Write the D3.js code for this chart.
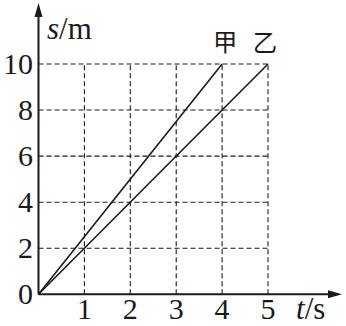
<!DOCTYPE html>
<html><head><meta charset="utf-8">
<script src="https://cdn.jsdelivr.net/npm/d3@7"></script>
</head><body style="margin:0;background:#fff">
<script>
const xTicks = [1, 2, 3, 4, 5];
const yTicks = [0, 2, 4, 6, 8, 10];
const seriesNames = ["甲", "乙"];
const seriesT = [[0, 4], [0, 5]];
const seriesS = [[0, 10], [0, 10]];

const W = 346, H = 326;
const svg = d3.select("body").append("svg").attr("width", W).attr("height", H);
const x = d3.scaleLinear().domain([0, 5]).range([38.5, 268]);
const y = d3.scaleLinear().domain([0, 10]).range([294.3, 64]);
const ink = "#1a1a1a";
const SERIF = "Liberation Serif";

// text placed via transform so glyph size follows the scale factor
function label(px, py, k, anchor) {
  return svg.append("text")
    .attr("transform", `translate(${px},${py}) scale(${k})`)
    .attr("text-anchor", anchor)
    .attr("font-family", SERIF).attr("font-size", 20).attr("fill", ink);
}

// grid
const g = svg.append("g").attr("stroke", ink).attr("stroke-width", 1.1).attr("stroke-dasharray", "5,3");
yTicks.filter(d => d > 0).forEach(v => {
  g.append("line").attr("x1", x(0)).attr("x2", x(5)).attr("y1", y(v)).attr("y2", y(v));
});
xTicks.forEach(v => {
  g.append("line").attr("x1", x(v)).attr("x2", x(v)).attr("y1", y(0)).attr("y2", y(10));
});

// axes
svg.append("line").attr("x1", x(0)).attr("x2", 333).attr("y1", y(0)).attr("y2", y(0)).attr("stroke", ink).attr("stroke-width", 2);
svg.append("line").attr("x1", x(0)).attr("x2", x(0)).attr("y1", y(0)).attr("y2", 12).attr("stroke", ink).attr("stroke-width", 2);
svg.append("path").attr("d", `M${x(0)},3 L${x(0)-4},17 L${x(0)+4},17 Z`).attr("fill", ink);
svg.append("path").attr("d", `M342,${y(0)} L328,${y(0)-4} L328,${y(0)+4} Z`).attr("fill", ink);

// series lines
const line = d3.line().x(d => x(d[0])).y(d => y(d[1]));
seriesNames.forEach((n, i) => {
  const pts = seriesT[i].map((t, j) => [t, seriesS[i][j]]);
  svg.append("path").attr("d", line(pts)).attr("fill", "none").attr("stroke", ink).attr("stroke-width", 1.6);
});

// tick labels
yTicks.forEach(v => label(33, y(v) + 10, 1.5, "end").text(v));
xTicks.forEach(v => label(x(v), 319, 1.5, "middle").text(v));

// axis titles
const st = label(47, 39, 1.55, "start");
st.append("tspan").attr("font-style", "italic").text("s");
st.append("tspan").text("/m");
const tt = label(296, 319, 1.55, "start");
tt.append("tspan").attr("font-style", "italic").text("t");
tt.append("tspan").text("/s");

// series labels
const labelPos = [[x(4) + 3, 51], [x(5) - 3, 51]];
seriesNames.forEach((n, i) => {
  label(labelPos[i][0], labelPos[i][1], 1.22, "middle").attr("font-family", "Noto Sans CJK SC").text(n);
});
</script>
</body></html>
